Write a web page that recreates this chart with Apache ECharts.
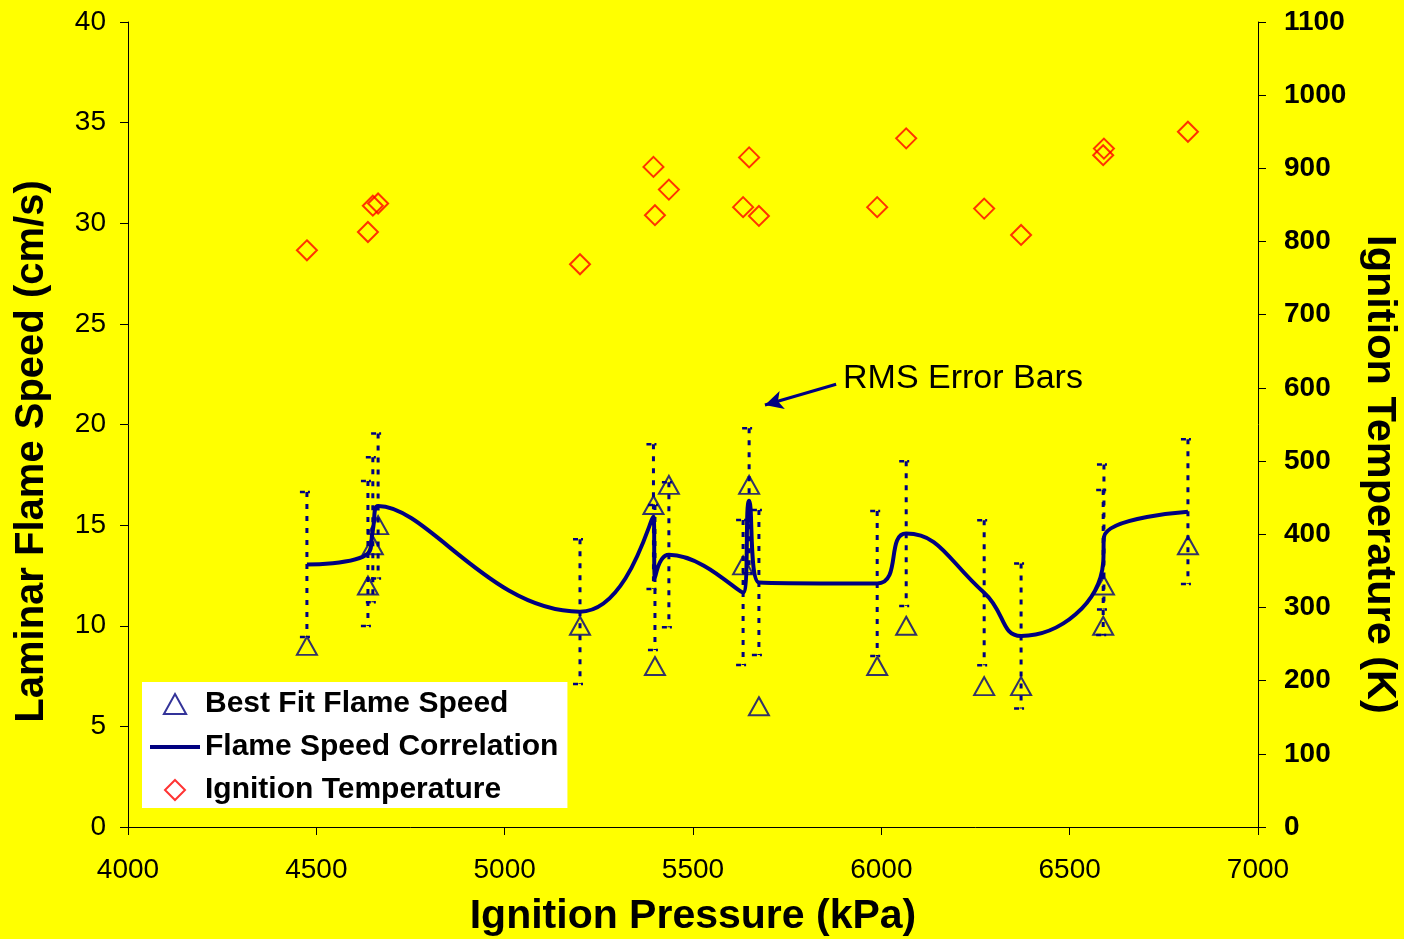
<!DOCTYPE html>
<html>
<head>
<meta charset="utf-8">
<script src="https://cdn.jsdelivr.net/npm/echarts@6/dist/echarts.min.js"></script>
<style>
html,body{margin:0;padding:0;background:#FFFF00;}
#chart{width:1404px;height:939px;}
</style>
</head>
<body>
<div id="chart"></div>
<script>
// Ignition pressure (kPa) of each test
const pressure = [4475, 4637, 4650, 4664, 5200, 5395, 5399, 5436, 5633, 5649, 5675, 5989, 6066, 6273, 6371, 6589, 6591, 6814];
// Best fit flame speed (cm/s)
const bestFit = [9, 12, 14, 15, 10, 16, 8, 17, 13, 17, 6, 8, 10, 7, 7, 10, 12, 14];
// Flame speed correlation (cm/s) at each pressure
const correlation = [13.04, 13.59, 14.77, 15.95, 10.70, 15.42, 12.40, 13.53, 11.65, 16.21, 12.15, 12.10, 14.58, 11.64, 9.49, 13.14, 14.41, 15.67];
// RMS error of the correlation (cm/s)
const rmsError = 3.6;
// Ignition temperature (K)
const ignitionTemp = [788, 813, 849, 852, 769, 902, 836, 871, 847, 915, 835, 847, 941, 845, 809, 918, 927, 950];

const xTicks = [4000, 7000, 500];
const yLeftTicks = [0, 40, 5];
const yRightTicks = [0, 1100, 100];

const NAVY = '#000080';
const RED = '#FF0000';

const triData = pressure.map((p, i) => [p, bestFit[i]]);
const corrData = pressure.map((p, i) => [p, correlation[i]]);
const errData = pressure.map((p, i) => [p, correlation[i] - rmsError, correlation[i] + rmsError]);
const tempData = pressure.map((p, i) => [p, ignitionTemp[i]]);

const chart = echarts.init(document.getElementById('chart'));
const font = 'Liberation Sans, Arial, sans-serif';
const plain = v => String(v);

chart.setOption({
  backgroundColor: '#FFFF00',
  animation: false,
  textStyle: { fontFamily: font },
  grid: { left: 128, right: 146, top: 22, bottom: 112, containLabel: false, outerBoundsMode: 'none' },
  legend: {
    left: 142, top: 682,
    orient: 'vertical',
    backgroundColor: '#FFFFFF',
    padding: [7, 9, 3, 8],
    itemGap: 13,
    itemWidth: 50,
    itemHeight: 20,
    symbolKeepAspect: true,
    textStyle: { fontSize: 30, fontWeight: 'bold', color: '#000', fontFamily: font, lineHeight: 30 },
    data: [
      { name: 'Best Fit Flame Speed', icon: 'path://M10,0 L20,18 L0,18 Z' },
      { name: 'Flame Speed Correlation', icon: 'path://M0,0 L50,0 L50,4 L0,4 Z', itemStyle: { color: NAVY, borderWidth: 0 } },
      { name: 'Ignition Temperature', icon: 'path://M10,0 L20,10 L10,20 L0,10 Z' }
    ]
  },
  xAxis: {
    type: 'value', min: xTicks[0], max: xTicks[1], interval: xTicks[2],
    name: 'Ignition Pressure (kPa)', nameLocation: 'middle', nameGap: 69,
    nameTextStyle: { fontSize: 41, fontWeight: 'bold', color: '#000', fontFamily: font },
    axisLine: { lineStyle: { color: '#000', width: 1 } },
    axisTick: { show: true, length: 8, lineStyle: { color: '#000' } },
    axisLabel: { fontSize: 28, color: '#000', margin: 29, fontFamily: font, formatter: plain },
    splitLine: { show: false }
  },
  yAxis: [{
    type: 'value', min: yLeftTicks[0], max: yLeftTicks[1], interval: yLeftTicks[2],
    name: 'Laminar Flame Speed (cm/s)', nameLocation: 'middle', nameGap: 76,
    nameTextStyle: { fontSize: 40, fontWeight: 'bold', color: '#000', fontFamily: font, padding: [0, 54, 0, 0] },
    axisLine: { show: true, lineStyle: { color: '#000', width: 1 } },
    axisTick: { show: true, length: 8, lineStyle: { color: '#000' } },
    axisLabel: { fontSize: 28, color: '#000', margin: 22, fontFamily: font, formatter: plain },
    splitLine: { show: false }
  }, {
    type: 'value', min: yRightTicks[0], max: yRightTicks[1], interval: yRightTicks[2],
    position: 'right',
    name: 'Ignition Temperature (K)', nameLocation: 'middle', nameGap: 100, nameRotate: -90,
    nameTextStyle: { fontSize: 41.5, fontWeight: 'bold', color: '#000', fontFamily: font, padding: [0, 0, 0, 100] },
    axisLine: { show: true, lineStyle: { color: '#000', width: 1 } },
    axisTick: { show: true, length: 8, lineStyle: { color: '#000' } },
    axisLabel: { fontSize: 28, fontWeight: 'bold', color: '#000', margin: 26, fontFamily: font, formatter: plain },
    splitLine: { show: false }
  }],
  series: [{
    name: 'RMS Error',
    type: 'custom',
    data: errData,
    z: 2,
    silent: true,
    renderItem: function (params, api) {
      const top = api.coord([api.value(0), api.value(2)]);
      const bot = api.coord([api.value(0), api.value(1)]);
      const st = { stroke: NAVY, lineWidth: 3, lineDash: [5, 7] };
      const capSt = { stroke: NAVY, lineWidth: 2.5, lineDash: [5, 3, 2, 3] };
      return {
        type: 'group',
        children: [
          { type: 'line', shape: { x1: top[0], y1: top[1], x2: bot[0], y2: bot[1] }, style: st },
          { type: 'line', shape: { x1: top[0] - 7, y1: top[1], x2: top[0] + 6, y2: top[1] }, style: capSt },
          { type: 'line', shape: { x1: bot[0] - 7, y1: bot[1], x2: bot[0] + 6, y2: bot[1] }, style: capSt }
        ]
      };
    }
  }, {
    name: 'Flame Speed Correlation',
    type: 'line',
    data: corrData,
    smooth: 0.5,
    symbol: 'none',
    z: 3,
    lineStyle: { color: NAVY, width: 4 },
    itemStyle: { color: NAVY },
    markLine: {
      silent: true,
      symbol: ['none', 'arrow'],
      symbolSize: [14, 18],
      label: { show: false },
      lineStyle: { color: NAVY, width: 3, type: 'solid' },
      data: [[{ coord: [5880, 22.0] }, { coord: [5691, 20.97] }]]
    }
  }, {
    name: 'Best Fit Flame Speed',
    type: 'scatter',
    data: triData,
    symbol: 'triangle',
    symbolSize: [20, 18],
    z: 4,
    itemStyle: { color: 'rgba(0,0,0,0)', borderColor: NAVY, borderWidth: 2 }
  }, {
    name: 'Ignition Temperature',
    type: 'scatter',
    yAxisIndex: 1,
    data: tempData,
    symbol: 'diamond',
    symbolSize: [20, 20],
    z: 4,
    itemStyle: { color: 'rgba(0,0,0,0)', borderColor: RED, borderWidth: 2 }
  }],
  graphic: [{
    type: 'text',
    left: 843, top: 362,
    style: { text: 'RMS Error Bars', fontSize: 34, fill: '#000', fontFamily: font }
  }]
});
</script>
</body>
</html>
